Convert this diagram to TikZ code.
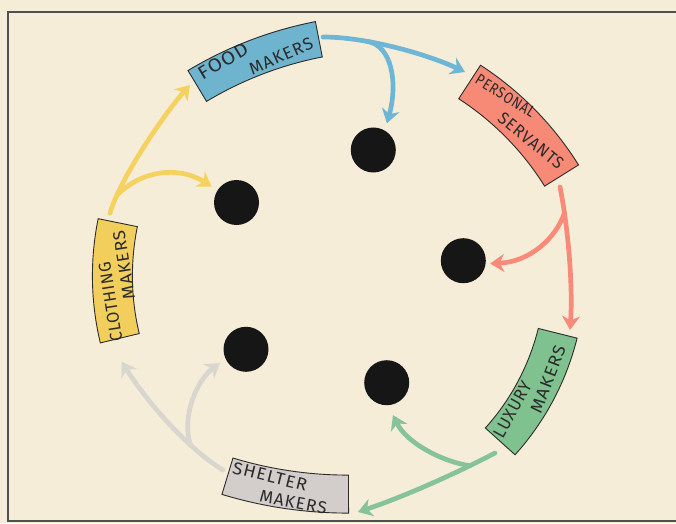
\documentclass[tikz,border=0pt]{standalone}
\usepackage{fontspec}
\usepackage{graphicx}
\newfontfamily\lab[LetterSpace=6]{Fira Sans}
\usetikzlibrary{calc,arrows.meta}
\definecolor{bg}{HTML}{F5EDD8}
\definecolor{ink}{HTML}{2B2B2B}
\definecolor{framec}{HTML}{505050}
\definecolor{dotc}{HTML}{161616}
\definecolor{foodc}{HTML}{6FB4CE}
\definecolor{persc}{HTML}{F68A76}
\definecolor{luxc}{HTML}{80C28F}
\definecolor{shelc}{HTML}{D3CDCB}
\definecolor{clothc}{HTML}{F2CF5C}
\definecolor{foodA}{HTML}{6EB6D6}
\definecolor{persA}{HTML}{F78A78}
\definecolor{luxA}{HTML}{86C29A}
\definecolor{shelA}{HTML}{D9D5CF}
\definecolor{clothA}{HTML}{F5D160}
\newcommand{\hl}[3]{\resizebox{#1pt}{#2pt}{\lab #3}}
\newcommand{\banner}[6]{%
  \filldraw[band, fill=#6]
   ($(#1)+({#2+#3/2}:{#4+#5/2})$)
   arc[start angle={#2+#3/2}, end angle={#2-#3/2}, radius={#4+#5/2}]
   -- ($(#1)+({#2-#3/2}:{#4-#5/2})$)
   arc[start angle={#2-#3/2}, end angle={#2+#3/2}, radius={#4-#5/2}]
   -- cycle;}
\begin{document}
\begin{tikzpicture}[x=1pt,y=1pt,
  band/.style={draw=ink, line width=0.9pt},
  lbl/.style={inner sep=0pt, text=ink},
  dot/.style={circle, fill=dotc, minimum size=45pt, inner sep=0pt},
  flow/.style={line width=4.7pt, line cap=round, -{Stealth[length=14pt,width=18pt,inset=4.5pt]}},
  framel/.style={draw=framec, line width=1.4pt}]
\useasboundingbox (0,0) rectangle (676,523);
\fill[bg] (0,0) rectangle (676,523);
\draw[framel] (676,511) -- (8,511) -- (8,2) -- (676,2);

% dots
\node[dot] (d1) at (373.3,373) {};
\node[dot] (d2) at (236.5,320.5) {};
\node[dot] (d3) at (463.3,262.3) {};
\node[dot] (d4) at (386.7,140.3) {};
\node[dot] (d5) at (246,173.7) {};

% banner ports
\coordinate (foodOut) at (323,486);
\coordinate (persIn) at (465,451);
\coordinate (persOut) at (560,336);
\coordinate (luxIn) at (570,193);
\coordinate (luxOut) at (495,70);
\coordinate (shelIn) at (358,11);
\coordinate (shelOut) at (223,53);
\coordinate (clothIn) at (121.7,161.3);
\coordinate (clothOut) at (110,309.7);
\coordinate (foodIn) at (190,438);

% arrows
\draw[flow, foodA] (foodOut) .. controls (368,486) and (429,468) .. (persIn) coordinate[pos=0.3] (bB);
\draw[flow, foodA] (bB) .. controls (392,478) and (398,440) .. ($(d1)+(63:30)$);
\draw[flow, persA] (persOut) .. controls (568,296) and (573,238) .. (luxIn) coordinate[pos=0.2] (bS);
\draw[flow, persA] (bS) .. controls (556,285) and (530,261) .. ($(d3)+(-6:27)$);
\draw[flow, luxA] (luxOut) .. controls (455,49) and (403,26) .. (shelIn) coordinate[pos=0.2] (bG);
\draw[flow, luxA] (bG) .. controls (440,62) and (406,81) .. ($(d4)+(-79:33)$);
\draw[flow, shelA] (shelOut) .. controls (188,74) and (147,121) .. (clothIn) coordinate[pos=0.3] (bR);
\draw[flow, shelA] (bR) .. controls (181,106) and (197,143) .. ($(d5)+(208:29.5)$);
\draw[flow, clothA] (clothOut) .. controls (120,345) and (165,410) .. (foodIn) coordinate[pos=0.15] (bY);
\draw[flow, clothA] (bY) .. controls (140,352) and (178,358) .. ($(d2)+(147.5:29.4)$);

% banners
\coordinate (oF) at (390.4,115.6);
\coordinate (oP) at (304.6,186.9);
\coordinate (oL) at (312.2,250.9);
\coordinate (oS) at (347.8,442.9);
\coordinate (oC) at (379.4,247.1);
\banner{oF}{111}{20}{375}{36}{foodc}
\banner{oP}{44.5}{25}{303}{40}{persc}
\banner{oL}{-28}{28}{253}{40}{luxc}
\banner{oS}{-98.4}{17}{414}{38}{shelc}
\banner{oC}{181}{25}{267}{40}{clothc}

% labels
\node[lbl, rotate=31] (tF1) at (223,462) {\hl{55}{13}{FOOD}};
\node[lbl, rotate=24] (tF2) at (281,467) {\hl{68}{12}{MAKERS}};
\node[lbl, rotate=-32] (tP1) at (505.5,427) {\hl{67}{11}{PERSONAL}};
\node[lbl, rotate=-39] (tP2) at (531,382) {\hl{79}{12}{SERVANTS}};
\node[lbl, rotate=61] (tL1) at (512.5,113.5) {\hl{61}{12}{LUXURY}};
\node[lbl, rotate=69] (tL2) at (548,144) {\hl{71}{12}{MAKERS}};
\node[lbl, rotate=-14] (tS1) at (270,46.5) {\hl{76}{12}{SHELTER}};
\node[lbl, rotate=-11] (tS2) at (293.3,20.5) {\hl{68}{12}{MAKERS}};
\node[lbl, rotate=99] (tC1) at (110.5,221.3) {\hl{80}{12}{CLOTHING}};
\node[lbl, rotate=99] (tC2) at (124,258) {\hl{69}{12}{MAKERS}};
\end{tikzpicture}
\end{document}
